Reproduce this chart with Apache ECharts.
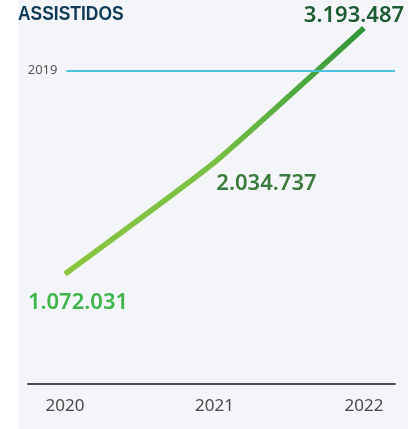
<!DOCTYPE html>
<html>
<head>
<meta charset="utf-8">
<script src="https://cdn.jsdelivr.net/npm/echarts@6/dist/echarts.min.js"></script>
<style>
  html, body { margin: 0; padding: 0; background: #fff; }
  #chart { width: 408px; height: 429px; }
</style>
</head>
<body>
<div id="chart"></div>
<script>
// dados
var years = [2020, 2021, 2022]
var assistidos = [1072031, 2034737, 3193487]
var ref2019Label = '2019'
var ref2019Value = 2825000

// formata 1072031 -> 1.072.031
function fmt (v) {
  return String(v).replace(/\B(?=(\d{3})+(?!\d))/g, '.')
}

// cor e deslocamento de cada rótulo
var labelLook = [
  { color: '#3db54a', offset: [13, 29] },
  { color: '#3a7a3b', offset: [52, 21] },
  { color: '#1c5c33', offset: [-10, -12] }
]

var chart = echarts.init(document.getElementById('chart'))

var option = {
  animation: false,
  graphic: [
    {
      type: 'rect',
      z: -10,
      silent: true,
      shape: { x: 18, y: 0, width: 390, height: 429 },
      style: { fill: '#f4f5f8' }
    },
    {
      // título condensado
      type: 'text',
      silent: true,
      x: 18,
      y: 4,
      scaleX: 0.83,
      style: {
        text: 'ASSISTIDOS',
        font: 'bold 21px "Liberation Sans"',
        fill: '#0f3b56'
      }
    }
  ],
  grid: {
    left: 28,
    right: 13,
    top: 28,
    bottom: 45
  },
  xAxis: {
    type: 'value',
    min: 2019.7525,
    max: 2022.2075,
    axisLine: { show: true, lineStyle: { color: '#4a4a4a', width: 2 } },
    axisTick: { show: false },
    splitLine: { show: false },
    axisLabel: {
      customValues: years,
      margin: 14,
      color: '#4a4a4a',
      fontFamily: 'Noto Sans',
      fontSize: 17,
      formatter: function (v) { return String(v) }
    }
  },
  yAxis: {
    type: 'value',
    min: 123000,
    max: 3193487,
    show: false,
    splitLine: { show: false }
  },
  series: [
    {
      type: 'line',
      smooth: 0.15,
      symbol: 'circle',
      symbolSize: 1,
      itemStyle: { color: 'rgba(0,0,0,0)' },
      lineStyle: {
        width: 5.5,
        cap: 'butt',
        color: new echarts.graphic.LinearGradient(0, 0, 1, 0, [
          { offset: 0, color: '#8cc640' },
          { offset: 0.5, color: '#78c044' },
          { offset: 1, color: '#2e963c' }
        ])
      },
      data: years.map(function (y, i) {
        return {
          value: [y, assistidos[i]],
          label: {
            show: true,
            position: 'inside',
            offset: labelLook[i].offset,
            color: labelLook[i].color,
            fontFamily: 'Noto Sans',
            fontWeight: 600,
            fontSize: 22,
            formatter: function () { return fmt(assistidos[i]) }
          }
        }
      }),
      markLine: {
        silent: true,
        symbol: 'none',
        lineStyle: { color: '#4cc3dc', width: 2, type: 'solid' },
        label: {
          show: true,
          position: 'start',
          distance: 9,
          color: '#555',
          fontFamily: 'Noto Sans',
          fontSize: 13,
          formatter: ref2019Label
        },
        data: [
          [
            { coord: [2020.01, ref2019Value] },
            { coord: [2022.2075, ref2019Value] }
          ]
        ]
      }
    }
  ]
}

chart.setOption(option)
window.addEventListener('resize', function () {
  chart.resize()
})
</script>
</body>
</html>
